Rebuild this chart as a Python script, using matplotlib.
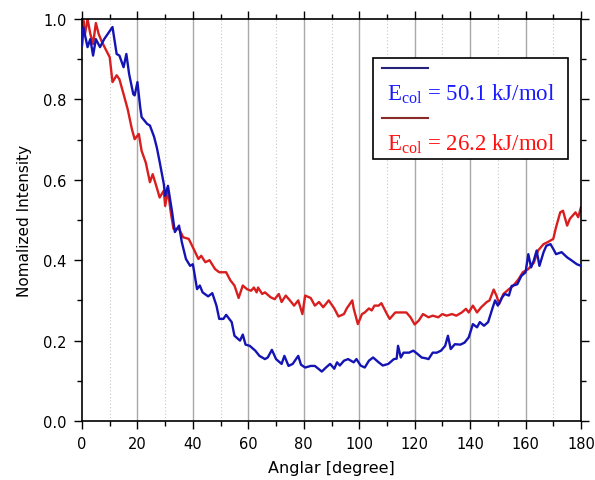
import matplotlib
matplotlib.use("Agg")
import matplotlib.pyplot as plt
from matplotlib.ticker import MultipleLocator
from matplotlib.patches import Rectangle
from matplotlib.lines import Line2D

plt.rcParams["mathtext.fontset"] = "custom"
plt.rcParams["mathtext.rm"] = "Liberation Serif"

# Scattering angle (degree) and normalized intensity, Ecol = 50.1 kJ/mol
angle_high = [0, 0.5, 2, 3, 4, 5, 6.5, 8, 11, 12.5, 13.5, 15, 16, 17, 18.5, 19, 20, 21,
              21.5, 23.5, 24.5, 26, 27, 28, 29.5, 30, 31, 32.5, 33.5, 35, 36, 37.5, 39,
              40, 41.5, 42.5, 43.5, 45.5, 47, 48.5, 49.5, 51, 52, 54, 55, 57, 58, 59,
              60.5, 62.5, 64, 66, 67, 68.5, 70, 72, 73, 74.5, 76, 78, 79, 80.5, 82.5,
              84, 86.5, 88, 89.5, 91, 92, 93, 94.5, 96, 98, 99, 100.5, 102, 103.5, 105,
              107, 108.5, 110.5, 112.5, 113.5, 114, 115, 116, 118, 119.5, 121, 122.5,
              124, 125, 126.5, 128, 129.5, 131, 132, 133, 134.5, 136.5, 138, 139.5,
              141, 142.5, 143.5, 145, 146.5, 148, 149, 150, 151.5, 152.5, 154, 155,
              157, 158.5, 160, 161, 162, 163, 164, 165, 166.5, 167.5, 169, 170, 171,
              173, 175, 176.5, 178.5, 180]
int_high = [0.934, 0.979, 0.93, 0.95, 0.909, 0.95, 0.93, 0.95, 0.98, 0.913, 0.909, 0.88,
            0.913, 0.863, 0.813, 0.81, 0.843, 0.78, 0.756, 0.739, 0.735, 0.707, 0.68,
            0.645, 0.59, 0.56, 0.585, 0.52, 0.47, 0.486, 0.445, 0.403, 0.386, 0.39,
            0.328, 0.337, 0.32, 0.31, 0.318, 0.287, 0.254, 0.254, 0.264, 0.246, 0.212,
            0.2, 0.215, 0.19, 0.187, 0.175, 0.162, 0.154, 0.158, 0.177, 0.154, 0.142,
            0.162, 0.137, 0.142, 0.162, 0.14, 0.133, 0.137, 0.137, 0.123, 0.133, 0.142,
            0.13, 0.146, 0.138, 0.15, 0.154, 0.146, 0.154, 0.138, 0.133, 0.15, 0.158,
            0.146, 0.138, 0.142, 0.154, 0.155, 0.187, 0.158, 0.17, 0.17, 0.175, 0.167,
            0.158, 0.156, 0.154, 0.17, 0.17, 0.175, 0.187, 0.212, 0.179, 0.191, 0.19,
            0.195, 0.208, 0.241, 0.233, 0.246, 0.237, 0.246, 0.279, 0.3, 0.287, 0.307,
            0.316, 0.312, 0.336, 0.34, 0.361, 0.37, 0.415, 0.382, 0.4, 0.424, 0.386,
            0.42, 0.436, 0.44, 0.428, 0.415, 0.42, 0.407, 0.4, 0.39, 0.386]

# Scattering angle (degree) and normalized intensity, Ecol = 26.2 kJ/mol
angle_low = [0, 0.5, 1, 2, 3, 4, 5, 6, 7, 8.5, 10, 11, 12.5, 13.5, 15, 16.5, 18, 19,
             20.5, 21.5, 23, 24.5, 25.5, 27, 28, 29.5, 30, 31, 32, 33, 35, 36.5, 38.5,
             40, 42, 43, 44.5, 46, 48, 49.5, 52, 53.5, 55, 56.5, 58, 59.5, 61, 62, 63,
             63.5, 65, 66, 68, 69.5, 71, 72, 73.5, 75, 76.5, 78, 79.5, 80.5, 82.5, 84,
             85.5, 87, 89, 91, 92.5, 94.5, 95.5, 97.5, 98, 99.5, 101, 102, 103.5, 104.5,
             105.5, 107, 108, 110, 111, 113, 115, 117, 118.5, 120, 121.5, 123, 125,
             126.5, 128.5, 130, 131.5, 133.5, 135, 137, 138.5, 139.5, 141, 142.5, 144,
             146, 147, 148.5, 149.5, 150.5, 152, 154, 155.5, 157.5, 159, 161, 163,
             164.5, 166.5, 168, 170, 171, 172.5, 173.5, 175, 176, 178, 179, 180]
int_low = [0.94, 0.996, 0.96, 1.0, 0.963, 0.938, 0.99, 0.963, 0.946, 0.925, 0.905,
           0.843, 0.86, 0.85, 0.813, 0.775, 0.726, 0.701, 0.714, 0.672, 0.643, 0.594,
           0.614, 0.58, 0.556, 0.573, 0.535, 0.573, 0.52, 0.478, 0.478, 0.457, 0.453,
           0.432, 0.403, 0.411, 0.395, 0.4, 0.378, 0.37, 0.37, 0.35, 0.337, 0.306,
           0.337, 0.328, 0.324, 0.332, 0.32, 0.332, 0.316, 0.32, 0.308, 0.303, 0.316,
           0.296, 0.312, 0.3, 0.287, 0.3, 0.266, 0.312, 0.306, 0.287, 0.296, 0.283,
           0.3, 0.28, 0.26, 0.266, 0.28, 0.3, 0.28, 0.241, 0.266, 0.27, 0.28, 0.275,
           0.287, 0.287, 0.293, 0.266, 0.254, 0.27, 0.27, 0.27, 0.258, 0.24, 0.25,
           0.266, 0.258, 0.262, 0.258, 0.266, 0.262, 0.266, 0.262, 0.27, 0.279, 0.27,
           0.287, 0.27, 0.283, 0.296, 0.3, 0.327, 0.312, 0.291, 0.316, 0.328, 0.336,
           0.353, 0.37, 0.378, 0.394, 0.424, 0.44, 0.445, 0.453, 0.482, 0.519, 0.523,
           0.486, 0.503, 0.519, 0.507, 0.532]

labels = [r"E$_{\mathregular{col}}$ = 50.1 kJ/mol", r"E$_{\mathregular{col}}$ = 26.2 kJ/mol"]
line_colors = ["#1414b4", "#d81e1e"]
text_colors = ["#1a1aff", "#ff1010"]
handle_colors = ["#23237a", "#8a2a2a"]

fig = plt.figure(figsize=(5.95, 4.81), dpi=100)
ax = fig.add_axes([82 / 595, 59 / 481, 499 / 595, 402 / 481])

# vertical guide lines
for xv in range(20, 180, 20):
    ax.axvline(xv, color="#a8a8a8", lw=1.0, zorder=0)
for xv in range(10, 180, 20):
    ax.axvline(xv, color="#c8c8c8", lw=0.8, ls=(0, (1, 2)), zorder=0)

ax.plot(angle_high, int_high, color=line_colors[0], lw=1.7, zorder=3)
ax.plot(angle_low, int_low, color=line_colors[1], lw=1.7, zorder=2)

ax.set_xlim(0, 180)
ax.set_ylim(0, 1.0)
ax.xaxis.set_major_locator(MultipleLocator(20))
ax.xaxis.set_minor_locator(MultipleLocator(10))
ax.yaxis.set_major_locator(MultipleLocator(0.2))
ax.yaxis.set_minor_locator(MultipleLocator(0.1))
ax.yaxis.set_major_formatter(matplotlib.ticker.FormatStrFormatter("%.1f"))
ax.tick_params(which="both", direction="out", top=True, right=True,
               labeltop=False, labelright=False, width=1.0, color="black",
               labelsize=10.5, pad=5)
ax.tick_params(which="major", length=6)
ax.tick_params(which="minor", length=3.5)
for sp in ax.spines.values():
    sp.set_linewidth(1.2)

ax.set_xlabel("Anglar [degree]", fontsize=11.5, labelpad=6)
ax.set_ylabel("Nomalized Intensity", fontsize=11, labelpad=8)

# legend box
ax.add_patch(Rectangle((0.583, 0.652), 0.391, 0.251, transform=ax.transAxes,
                       facecolor="white", edgecolor="black", lw=1.2, zorder=5))
for i, (ly, ty) in enumerate([(0.878, 0.816), (0.753, 0.692)]):
    ax.add_line(Line2D([0.601, 0.693], [ly, ly], transform=ax.transAxes,
                       color=handle_colors[i], lw=1.5, zorder=6))
    ax.text(0.612, ty, labels[i], transform=ax.transAxes, color=text_colors[i],
            fontsize=16.5, family="Liberation Serif", va="center", ha="left", zorder=6)

fig.savefig("out.png", dpi=100)
